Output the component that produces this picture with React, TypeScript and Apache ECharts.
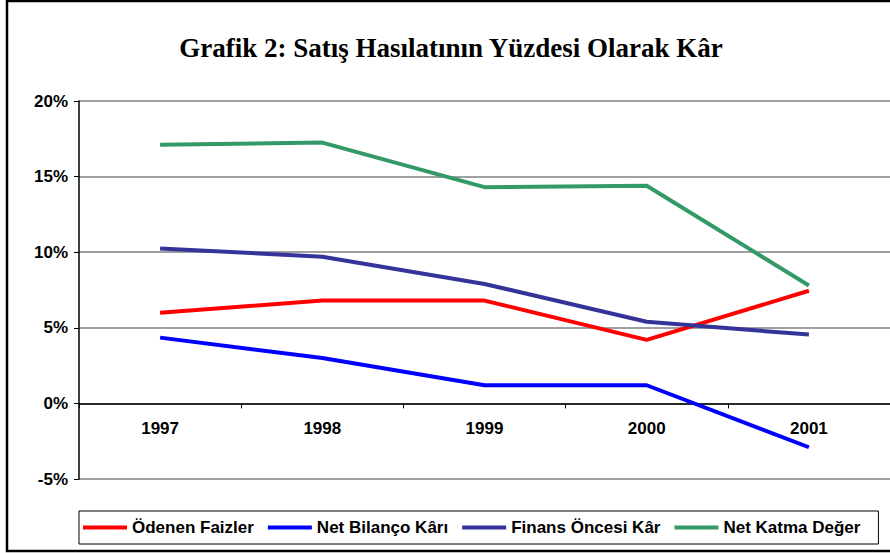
import React, { useEffect, useRef } from "react";
import * as echarts from "echarts";

const years = ["1997", "1998", "1999", "2000", "2001"];
const odenenFaizler = [6.0, 6.8, 6.8, 4.2, 7.45];
const netBilancoKari = [4.35, 3.0, 1.2, 1.2, -2.9];
const finansOncesiKar = [10.25, 9.7, 7.9, 5.4, 4.55];
const netKatmaDeger = [17.1, 17.25, 14.3, 14.4, 7.8];
const seriesNames = ["Ödenen Faizler", "Net Bilanço Kârı", "Finans Öncesi Kâr", "Net Katma Değer"];
const seriesColors = ["#FF0000", "#0000FF", "#333399", "#339966"];
const titleText = "Grafik 2: Satış Hasılatının Yüzdesi Olarak Kâr";

const Y_MIN = -5;
const Y_MAX = 20;
const GRID_TOP = 101;
const GRID_HEIGHT = 378;

export default function App() {
  const ref = useRef<HTMLDivElement>(null);
  useEffect(() => {
    if (!ref.current) return;
    const chart = echarts.init(ref.current, null, { renderer: "svg" });
    const data = [odenenFaizler, netBilancoKari, finansOncesiKar, netKatmaDeger];
    // distance from the grid bottom up to the zero line
    const zeroOffset = (GRID_HEIGHT * (0 - Y_MIN)) / (Y_MAX - Y_MIN);
    chart.setOption({
      animation: false,
      backgroundColor: "#fff",
      title: {
        text: titleText,
        left: 446,
        textAlign: "center",
        top: 29,
        textStyle: {
          fontFamily: "Liberation Serif",
          fontWeight: "bold",
          fontSize: 27,
          color: "#000",
        },
      },
      graphic: [
        {
          type: "rect",
          shape: { x: 7, y: 1, width: 900, height: 550 },
          style: { fill: "none", stroke: "#000", lineWidth: 2.5 },
          silent: true,
        },
      ],
      grid: { left: 79, top: GRID_TOP, width: 814, height: GRID_HEIGHT },
      xAxis: {
        type: "category",
        data: years,
        boundaryGap: true,
        position: "bottom",
        offset: -zeroOffset,
        axisLine: { onZero: false, lineStyle: { color: "#000", width: 1.5 } },
        axisTick: { show: true, length: 5, lineStyle: { color: "#000" } },
        axisLabel: {
          margin: 17,
          fontFamily: "Liberation Sans",
          fontWeight: "bold",
          fontSize: 17,
          color: "#000",
        },
        splitLine: { show: false },
      },
      yAxis: {
        type: "value",
        min: Y_MIN,
        max: Y_MAX,
        interval: 5,
        axisLine: { show: true, lineStyle: { color: "#000", width: 1.5 } },
        axisTick: { show: true, length: 5, lineStyle: { color: "#000" } },
        axisLabel: {
          formatter: "{value}%",
          margin: 11,
          fontFamily: "Liberation Sans",
          fontWeight: "bold",
          fontSize: 17,
          color: "#000",
        },
        splitLine: { show: true, lineStyle: { color: "#808080", width: 1.5 } },
      },
      legend: {
        left: 79,
        top: 511,
        orient: "horizontal",
        icon: "rect",
        itemWidth: 44,
        itemHeight: 4,
        itemGap: 14,
        padding: [8, 18, 8, 4],
        borderColor: "#000",
        borderWidth: 1,
        textStyle: {
          fontFamily: "Liberation Sans",
          fontWeight: "bold",
          fontSize: 17,
          color: "#000",
        },
        data: seriesNames,
      },
      series: seriesNames.map((name, i) => ({
        name,
        type: "line",
        data: data[i],
        showSymbol: false,
        symbol: "none",
        color: seriesColors[i],
        lineStyle: { color: seriesColors[i], width: 4 },
      })),
    });
    return () => chart.dispose();
  }, []);
  return (
    <div
      ref={ref}
      style={{ position: "fixed", left: 0, top: 0, width: 890, height: 553 }}
    />
  );
}
